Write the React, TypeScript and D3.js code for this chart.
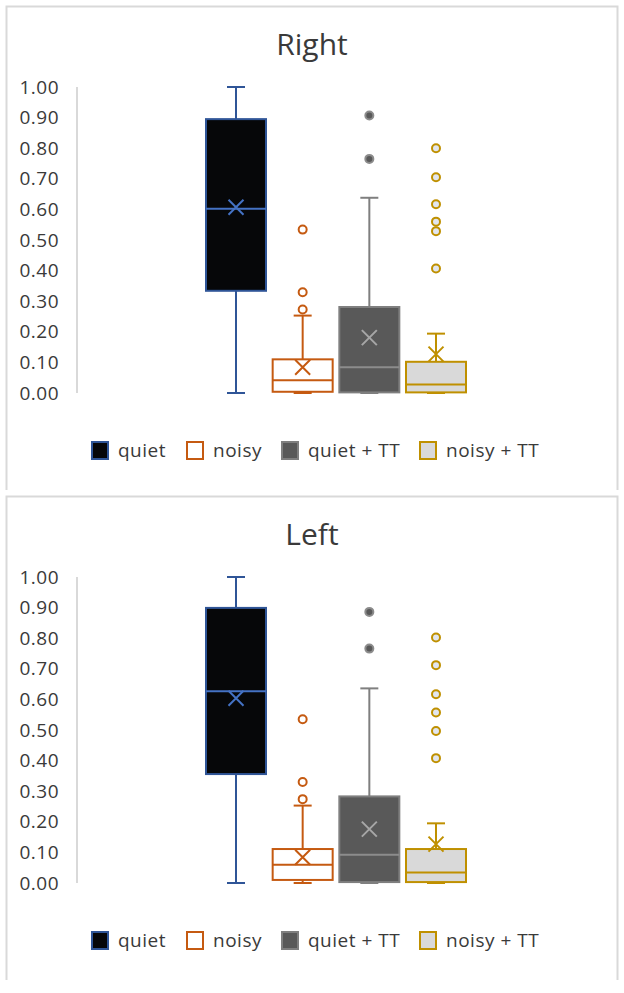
import React, { useEffect, useRef } from "react";
import * as d3 from "d3";

const series = ["quiet", "noisy", "quiet + TT", "noisy + TT"];
const yTicks = [0, 0.1, 0.2, 0.3, 0.4, 0.5, 0.6, 0.7, 0.8, 0.9, 1.0];

// Right ear
const rightMin = [0, 0, 0, 0];
const rightQ1 = [0.334, 0.004, 0.002, 0.002];
const rightMedian = [0.602, 0.042, 0.084, 0.028];
const rightQ3 = [0.895, 0.11, 0.281, 0.102];
const rightMax = [1.0, 0.253, 0.638, 0.194];
const rightMean = [0.607, 0.084, 0.181, 0.127];
const rightOutliers = [[], [0.534, 0.329, 0.273], [0.907, 0.765], [0.8, 0.705, 0.617, 0.56, 0.529, 0.407]];

// Left ear
const leftMin = [0, 0, 0, 0];
const leftQ1 = [0.356, 0.01, 0.003, 0.003];
const leftMedian = [0.627, 0.06, 0.092, 0.034];
const leftQ3 = [0.899, 0.111, 0.283, 0.111];
const leftMax = [1.0, 0.253, 0.636, 0.195];
const leftMean = [0.604, 0.084, 0.176, 0.127];
const leftOutliers = [[], [0.535, 0.33, 0.274], [0.886, 0.766], [0.802, 0.712, 0.617, 0.557, 0.497, 0.408]];

const styles = [
    { fill: "#060709", stroke: "#2f5597", median: "#4472c4", mean: "#4472c4", dotFill: "#060709", dotStroke: "#2f5597" },
    { fill: "#ffffff", stroke: "#c55a11", median: "#c55a11", mean: "#c55a11", dotFill: "#ffffff", dotStroke: "#c55a11" },
    { fill: "#595959", stroke: "#7f7f7f", median: "#8c8c8c", mean: "#a6a6a6", dotFill: "#595959", dotStroke: "#8c8c8c" },
    { fill: "#d9d9d9", stroke: "#bf9000", median: "#bf9000", mean: "#bf9000", dotFill: "#e2e6ee", dotStroke: "#bf9000" },
];

const FONT = "'Open Sans', 'Noto Sans', sans-serif";
const TEXT = "#3a3a3a";

interface PanelProps {
    title: string;
    min: number[];
    q1: number[];
    median: number[];
    q3: number[];
    max: number[];
    mean: number[];
    outliers: number[][];
}

const BoxPanel: React.FC<PanelProps> = ({ title, min, q1, median, q3, max, mean, outliers }) => {
    const svgRef = useRef<SVGSVGElement | null>(null);
    const width = 624;
    const height = 490;

    useEffect(() => {
        if (!svgRef.current) return;
        const svg = d3.select(svgRef.current);
        svg.selectAll("*").remove();

        // frame
        svg.append("rect")
            .attr("x", 6.5).attr("y", 6.5)
            .attr("width", 611).attr("height", 487)
            .attr("fill", "#fff").attr("stroke", "#d9d9d9").attr("stroke-width", 2);

        svg.append("text")
            .attr("x", 312).attr("y", 55)
            .attr("text-anchor", "middle")
            .attr("font-family", FONT).attr("font-size", 30)
            .attr("fill", TEXT)
            .text(title);

        const y = d3.scaleLinear().domain([0, 1]).range([393, 87]);
        const x = d3.scaleBand().domain(series).range([206, 466]).paddingInner(0.1);

        // y axis
        svg.append("line")
            .attr("x1", 77).attr("x2", 77)
            .attr("y1", y(1)).attr("y2", y(0))
            .attr("stroke", "#d9d9d9").attr("stroke-width", 2);

        svg.append("g").selectAll("text")
            .data(yTicks)
            .enter()
            .append("text")
            .attr("x", 59)
            .attr("y", d => y(d) + 6.5)
            .attr("text-anchor", "end")
            .attr("font-family", FONT).attr("font-size", 19)
            .attr("letter-spacing", 0.5)
            .attr("fill", TEXT)
            .text(d => d3.format(".2f")(d));

        const bw = x.bandwidth();
        const capW = 18;

        series.forEach((s, i) => {
            const st = styles[i];
            const cx = (x(s) as number) + bw / 2;
            const g = svg.append("g");

            // whiskers
            g.append("line")
                .attr("x1", cx).attr("x2", cx)
                .attr("y1", y(q3[i])).attr("y2", y(max[i]))
                .attr("stroke", st.stroke).attr("stroke-width", 2);
            g.append("line")
                .attr("x1", cx - capW / 2).attr("x2", cx + capW / 2)
                .attr("y1", y(max[i])).attr("y2", y(max[i]))
                .attr("stroke", st.stroke).attr("stroke-width", 2);
            g.append("line")
                .attr("x1", cx).attr("x2", cx)
                .attr("y1", y(q1[i])).attr("y2", y(min[i]))
                .attr("stroke", st.stroke).attr("stroke-width", 2);
            g.append("line")
                .attr("x1", cx - capW / 2).attr("x2", cx + capW / 2)
                .attr("y1", y(min[i])).attr("y2", y(min[i]))
                .attr("stroke", st.stroke).attr("stroke-width", 2);

            // box
            g.append("rect")
                .attr("x", x(s) as number)
                .attr("y", y(q3[i]))
                .attr("width", bw)
                .attr("height", y(q1[i]) - y(q3[i]))
                .attr("fill", st.fill)
                .attr("stroke", st.stroke).attr("stroke-width", 2);

            // median
            g.append("line")
                .attr("x1", x(s) as number).attr("x2", (x(s) as number) + bw)
                .attr("y1", y(median[i])).attr("y2", y(median[i]))
                .attr("stroke", st.median).attr("stroke-width", 2);

            // mean marker
            const m = 7.5;
            const my = y(mean[i]);
            g.append("path")
                .attr("d", `M${cx - m},${my - m}L${cx + m},${my + m}M${cx - m},${my + m}L${cx + m},${my - m}`)
                .attr("stroke", st.mean).attr("stroke-width", 2).attr("fill", "none");

            // outliers
            g.selectAll("circle")
                .data(outliers[i])
                .enter()
                .append("circle")
                .attr("cx", cx)
                .attr("cy", d => y(d))
                .attr("r", 4)
                .attr("fill", st.dotFill)
                .attr("stroke", st.dotStroke).attr("stroke-width", 2);
        });

        // legend
        const legendX = [92, 187, 282, 420];
        const lg = svg.append("g");
        series.forEach((s, i) => {
            const st = styles[i];
            lg.append("rect")
                .attr("x", legendX[i]).attr("y", 442)
                .attr("width", 16).attr("height", 17)
                .attr("fill", st.fill).attr("stroke", st.stroke).attr("stroke-width", 2);
            lg.append("text")
                .attr("x", legendX[i] + 26).attr("y", 457)
                .attr("font-family", FONT).attr("font-size", 19)
                .attr("letter-spacing", 0.5)
                .attr("fill", TEXT)
                .text(s);
        });
    }, [title, min, q1, median, q3, max, mean, outliers]);

    return <svg ref={svgRef} width={width} height={height} style={{ display: "block" }} />;
};

const App: React.FC = () => (
    <div style={{ position: "absolute", left: 0, top: 0, width: 624, height: 993, background: "#fff" }}>
        <BoxPanel title="Right" min={rightMin} q1={rightQ1} median={rightMedian} q3={rightQ3}
            max={rightMax} mean={rightMean} outliers={rightOutliers} />
        <BoxPanel title="Left" min={leftMin} q1={leftQ1} median={leftMedian} q3={leftQ3}
            max={leftMax} mean={leftMean} outliers={leftOutliers} />
    </div>
);

export default App;
